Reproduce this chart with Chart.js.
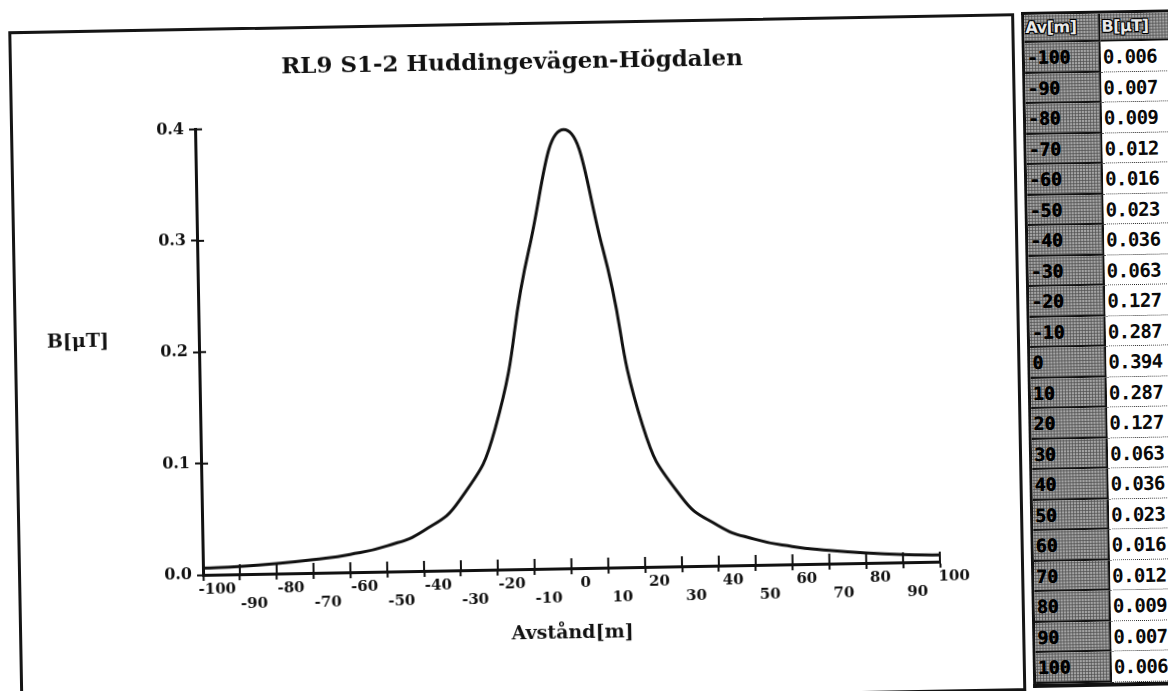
<!DOCTYPE html>
<html>
<head>
<meta charset="utf-8">
<script src="https://cdn.jsdelivr.net/npm/chart.js@4.4.1/dist/chart.umd.min.js"></script>
<style>
  html, body { margin: 0; padding: 0; background: #fff; width: 1168px; height: 691px; overflow: hidden; }
  #page { position: absolute; left: 0; top: 0; width: 1168px; height: 691px;
          transform: rotate(-1.03deg); transform-origin: 584px 345px; }
  #frame { position: absolute; left: 14px; top: 21px; width: 1000px; height: 672px;
           border: 3px solid #151515; background: #fff; }
  #frame canvas { display: block; }
  #tbl { position: absolute; left: 1027px; top: 20px; width: 170px;
         display: grid; grid-template-columns: 76px 94px;
         grid-template-rows: 28px repeat(21, 30.5px);
         border-left: 3px solid #111; border-top: 3px solid #111; border-bottom: 4px solid #111;
         box-sizing: content-box; }
  .c { box-sizing: border-box; overflow: hidden; white-space: nowrap; }
  .ht { background: radial-gradient(circle, #555 45%, rgba(0,0,0,0) 55%) 0 0 / 3px 3px, #a4a4a4; }
  .lh { border-right: 2px solid #111; border-bottom: 2px solid #111; }
  .hd { font: bold 16px "DejaVu Sans", sans-serif; color: #e8e8e8; line-height: 26px; padding-left: 1px;
        text-shadow: -1px -1px 0 #000, 1px -1px 0 #000, -1px 1px 0 #000, 1px 1px 0 #000; letter-spacing: -0.5px; }
  .av { font: bold 18px "DejaVu Sans Mono", monospace; color: #000; line-height: 29px; padding-left: 2px;
        text-shadow: 0.5px 0 0 #000; }
  .bv { background: #fff; border-bottom: 1px dotted #222; font: bold 19px "DejaVu Sans Mono", monospace;
        color: #0a0a0a; line-height: 30px; padding-left: 2px; letter-spacing: -0.6px; }
</style>
</head>
<body>
<div id="page">
  <div id="frame"><canvas id="chart" width="1000" height="672"></canvas></div>
  <div id="tbl"></div>
</div>
<script>
// ---- data ----
const distances = [-100, -90, -80, -70, -60, -50, -40, -30, -20, -10, 0, 10, 20, 30, 40, 50, 60, 70, 80, 90, 100];
const fieldValues = [0.006, 0.007, 0.009, 0.012, 0.016, 0.023, 0.036, 0.063, 0.127, 0.287, 0.394,
                     0.287, 0.127, 0.063, 0.036, 0.023, 0.016, 0.012, 0.009, 0.007, 0.006];
const xTickLabels = ['-100', '-90', '-80', '-70', '-60', '-50', '-40', '-30', '-20', '-10', '0',
                     '10', '20', '30', '40', '50', '60', '70', '80', '90', '100'];
const yTickLabels = ['0.0', '0.1', '0.2', '0.3', '0.4'];
const chartTitle = 'RL9 S1-2 Huddingevägen-Högdalen';
const xAxisTitle = 'Avstånd[m]';
const yAxisTitle = 'B[μT]';
const tableHeaders = ['Av[m]', 'B[μT]'];

// ---- table ----
const tbl = document.getElementById('tbl');
function cell(cls, text) {
  const d = document.createElement('div');
  d.className = 'c ' + cls;
  d.textContent = text;
  tbl.appendChild(d);
}
cell('ht lh hd', tableHeaders[0]);
cell('ht hd', tableHeaders[1]);
tbl.lastChild.style.borderBottom = '2px solid #111';
distances.forEach((d, i) => {
  cell('ht lh av', String(d));
  cell('bv', fieldValues[i].toFixed(3));
});

// ---- chart ----
const serif = '"DejaVu Serif", "Liberation Serif", serif';
const ink = '#111';

const innerTicks = {
  id: 'innerTicks',
  afterDraw(chart) {
    const { ctx, chartArea, scales: { x, y } } = chart;
    ctx.save();
    ctx.strokeStyle = ink;
    ctx.lineWidth = 2;
    ctx.beginPath();
    x.ticks.forEach(t => {
      const px = x.getPixelForValue(t.value);
      ctx.moveTo(px, chartArea.bottom);
      ctx.lineTo(px, chartArea.bottom - 10);
    });
    y.ticks.forEach(t => {
      const py = y.getPixelForValue(t.value);
      ctx.moveTo(chartArea.left, py);
      ctx.lineTo(chartArea.left + 7, py);
    });
    ctx.stroke();
    // horizontal y-axis title
    ctx.fillStyle = ink;
    ctx.font = 'bold 19px ' + serif;
    ctx.textAlign = 'center';
    ctx.textBaseline = 'middle';
    ctx.fillText(yAxisTitle, chartArea.left - 121, (chartArea.top + chartArea.bottom) / 2 - 12);
    ctx.restore();
  }
};

new Chart(document.getElementById('chart'), {
  type: 'line',
  data: {
    datasets: [{
      data: distances.map((d, i) => ({ x: d, y: fieldValues[i] })),
      borderColor: ink,
      borderWidth: 3,
      pointRadius: 0,
      fill: false,
      tension: 0.5
    }]
  },
  options: {
    responsive: false,
    animation: false,
    devicePixelRatio: 1,
    layout: { padding: { left: 81, right: 81, top: 0, bottom: 0 } },
    plugins: {
      legend: { display: false },
      tooltip: { enabled: false },
      title: {
        display: true,
        text: chartTitle,
        color: ink,
        font: { family: serif, size: 23, weight: 'bold' },
        padding: { top: 24, bottom: 47 }
      }
    },
    scales: {
      x: {
        type: 'linear',
        min: distances[0],
        max: distances[distances.length - 1],
        afterFit(scale) { scale.height = 128; },
        border: { display: true, color: ink, width: 3 },
        grid: { drawOnChartArea: false, drawTicks: true, tickLength: 6, tickWidth: 2, tickColor: ink },
        ticks: {
          stepSize: 10,
          autoSkip: false,
          maxRotation: 0,
          minRotation: 0,
          padding: 2,
          labelOffset: 14,
          color: ink,
          font: { family: serif, size: 15, weight: 'bold', lineHeight: 1.0 },
          callback(value, index) {
            const lbl = xTickLabels[distances.indexOf(value)];
            return index % 2 === 0 ? [lbl, ''] : ['', lbl];
          }
        },
        title: {
          display: true,
          text: xAxisTitle,
          color: ink,
          font: { family: serif, size: 19, weight: 'bold' },
          padding: { top: 0, bottom: 52 }
        }
      },
      y: {
        min: 0,
        max: 0.4,
        afterFit(scale) { scale.width = 101; },
        border: { display: true, color: ink, width: 3 },
        grid: { drawOnChartArea: false, drawTicks: true, tickLength: 6, tickWidth: 2, tickColor: ink },
        ticks: {
          stepSize: 0.1,
          padding: 5,
          color: ink,
          font: { family: serif, size: 16, weight: 'bold' },
          callback(value) {
            const idx = Math.round(value * 10);
            return yTickLabels[idx];
          }
        }
      }
    }
  },
  plugins: [innerTicks]
});
</script>
</body>
</html>
